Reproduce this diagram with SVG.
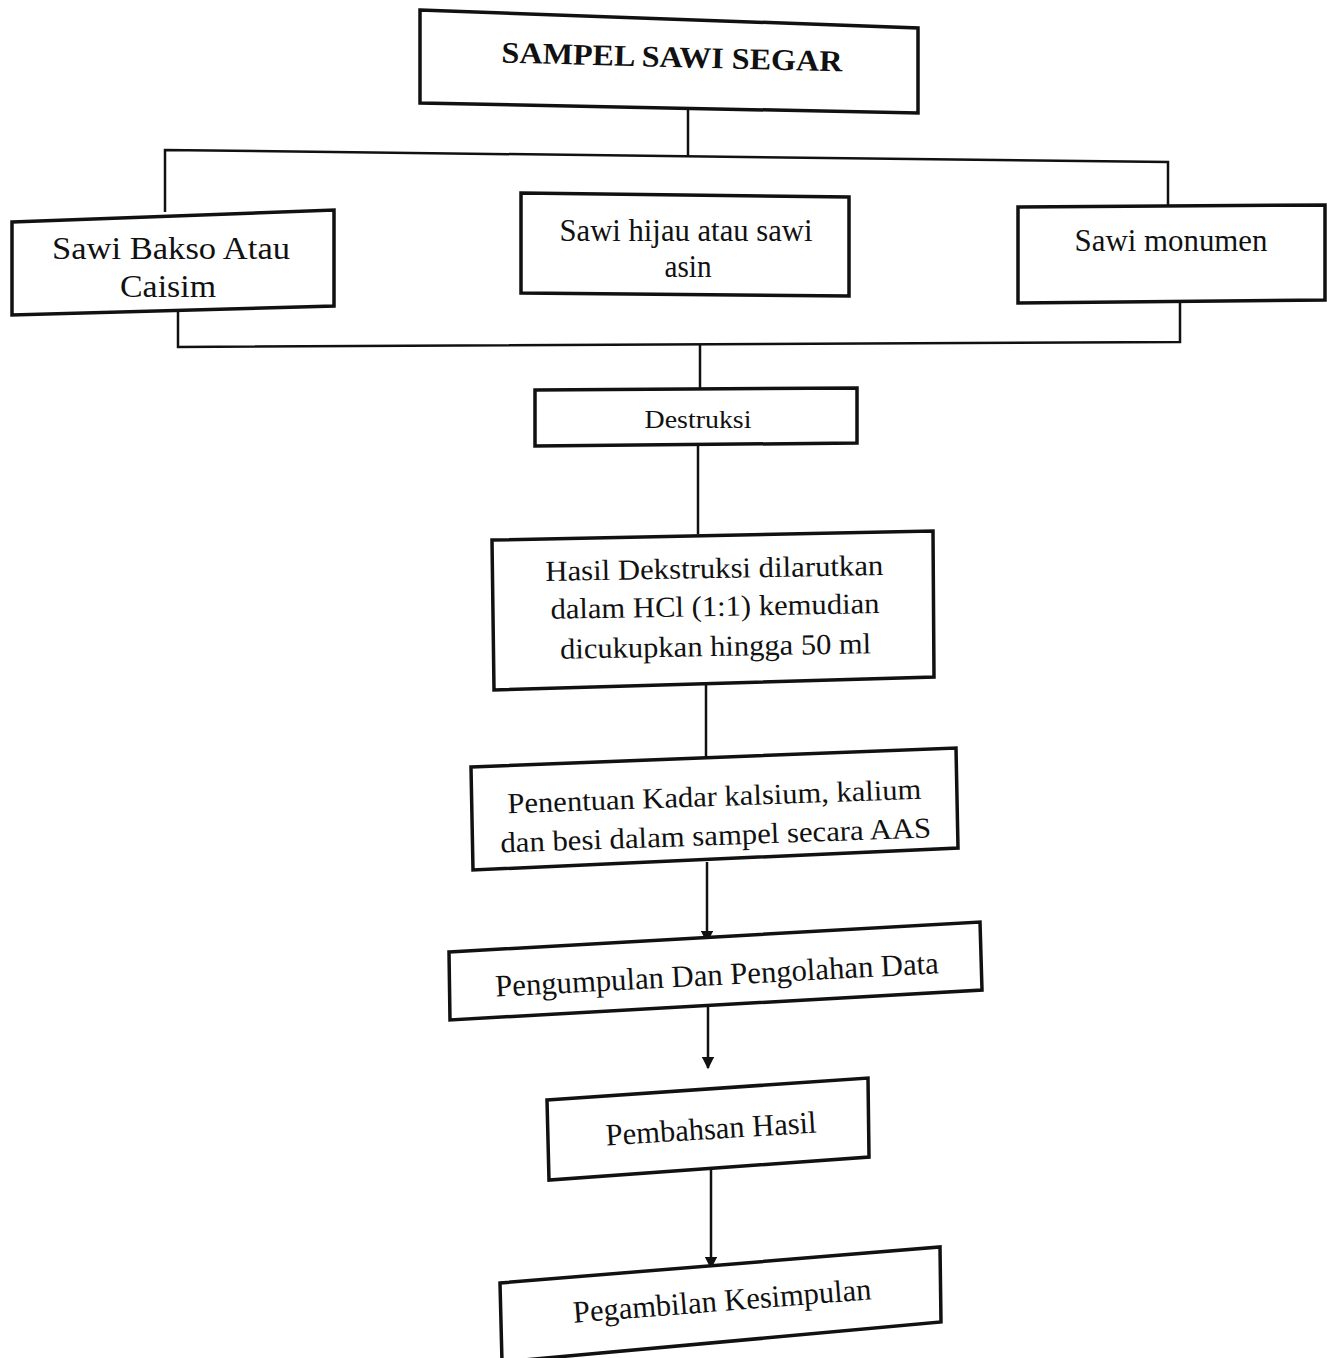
<svg xmlns="http://www.w3.org/2000/svg" width="1327" height="1358" viewBox="0 0 1327 1358">
<defs>
<style>
.box{fill:#fff;stroke:#111;stroke-width:3.5;stroke-linejoin:miter}
.ln{fill:none;stroke:#111;stroke-width:2.5}
text{font-family:"Liberation Serif","Times New Roman",serif;fill:#111;text-anchor:middle}
.t{font-size:31px}
.m{font-size:29px}
.s{font-size:26px}
.h{font-size:30px;font-weight:bold}
</style>
<marker id="ah" viewBox="0 0 10 10" refX="9" refY="5" markerWidth="5" markerHeight="5" orient="auto" markerUnits="strokeWidth">
<path d="M0,0 L10,5 L0,10 z" fill="#111"/>
</marker>
</defs>
<rect width="1327" height="1358" fill="#fff"/>
<g id="connectors">
<line class="ln" x1="688" y1="110" x2="688" y2="156"/>
<polyline class="ln" points="165,212 165,150 1168,162 1168,210"/>
<polyline class="ln" points="178,310 178,347 1180,342 1180,302"/>
<line class="ln" x1="700" y1="345" x2="700" y2="390"/>
<line class="ln" x1="698" y1="445" x2="698" y2="534"/>
<line class="ln" x1="706" y1="684" x2="706" y2="765"/>
<line class="ln" x1="707" y1="862" x2="707" y2="942" marker-end="url(#ah)"/>
<line class="ln" x1="708" y1="988" x2="708" y2="1068" marker-end="url(#ah)"/>
<line class="ln" x1="711" y1="1166" x2="711" y2="1268" marker-end="url(#ah)"/>
</g>
<g id="n1">
<polygon class="box" points="420,10 918,28 918,113 420,103"/>
<text class="h" x="672" y="67" textLength="341" lengthAdjust="spacingAndGlyphs" transform="rotate(1.5 672 58)">SAMPEL SAWI  SEGAR</text>
</g>
<g id="n2">
<polygon class="box" points="12,222 334,210 334,306 12,315"/>
<text class="t" x="171" y="259" textLength="238" lengthAdjust="spacingAndGlyphs">Sawi Bakso Atau</text>
<text class="t" x="168" y="297" textLength="96" lengthAdjust="spacingAndGlyphs">Caisim</text>
</g>
<g id="n3">
<polygon class="box" points="521,193 849,197 849,296 521,293"/>
<text class="t" x="686" y="241" textLength="253" lengthAdjust="spacingAndGlyphs">Sawi hijau atau sawi</text>
<text class="t" x="688" y="277" textLength="47" lengthAdjust="spacingAndGlyphs">asin</text>
</g>
<g id="n4">
<polygon class="box" points="1018,207 1325,205 1325,300 1018,303"/>
<text class="t" x="1171" y="251" textLength="193" lengthAdjust="spacingAndGlyphs">Sawi monumen</text>
</g>
<g id="n5">
<polygon class="box" points="535,390 857,388 857,443 535,446"/>
<text class="s" x="698" y="428" textLength="107" lengthAdjust="spacingAndGlyphs">Destruksi</text>
</g>
<g id="n6">
<polygon class="box" points="492,540 933,531 934,677 494,690"/>
<g transform="rotate(-1 713 610)">
<text class="m" x="715" y="578" textLength="338" lengthAdjust="spacingAndGlyphs">Hasil Dekstruksi dilarutkan</text>
<text class="m" x="715" y="616" textLength="329" lengthAdjust="spacingAndGlyphs">dalam HCl (1:1) kemudian</text>
<text class="m" x="715" y="656" textLength="311" lengthAdjust="spacingAndGlyphs">dicukupkan hingga 50 ml</text>
</g>
</g>
<g id="n7">
<polygon class="box" points="471,767 956,748 958,848 473,870"/>
<g transform="rotate(-2 715 815)">
<text class="m" x="715" y="806" textLength="414" lengthAdjust="spacingAndGlyphs">Penentuan Kadar kalsium, kalium</text>
<text class="m" x="715" y="845" textLength="431" lengthAdjust="spacingAndGlyphs">dan besi dalam sampel secara AAS</text>
</g>
</g>
<g id="n8">
<polygon class="box" points="449,952 980,922 982,990 450,1020"/>
<text class="t" x="717" y="985" textLength="444" lengthAdjust="spacingAndGlyphs" transform="rotate(-3 717 975)">Pengumpulan Dan Pengolahan Data</text>
</g>
<g id="n9">
<polygon class="box" points="547,1100 868,1078 869,1157 549,1180"/>
<text class="t" x="711" y="1139" textLength="211" lengthAdjust="spacingAndGlyphs" transform="rotate(-3.5 711 1128)">Pembahsan Hasil</text>
</g>
<g id="n10">
<polygon class="box" points="500,1283 940,1247 941,1322 502,1362"/>
<text class="t" x="722" y="1311" textLength="299" lengthAdjust="spacingAndGlyphs" transform="rotate(-4.5 722 1300)">Pegambilan Kesimpulan</text>
</g>
</svg>
